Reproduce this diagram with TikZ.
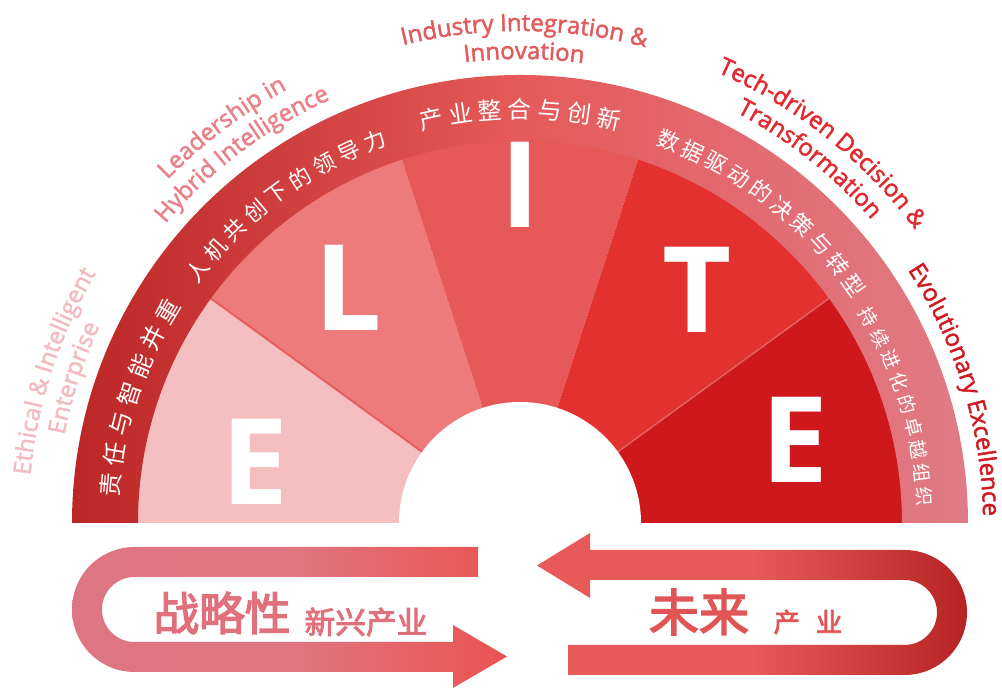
\documentclass[tikz,border=0pt]{standalone}
\usepackage{fontspec}
\setmainfont{Open Sans}
\newfontfamily\enfont{Open Sans}[RawFeature={embolden=2}]
\newfontfamily\cjk{Noto Sans CJK SC}
\newfontfamily\cjkbold{Noto Sans CJK SC}[RawFeature={embolden=3}]
\usetikzlibrary{decorations.text}

\definecolor{wedgeE}{HTML}{F5BFC1}
\definecolor{wedgeL}{HTML}{EE7B7C}
\definecolor{wedgeI}{HTML}{E75858}
\definecolor{wedgeT}{HTML}{E2312E}
\definecolor{wedgeX}{HTML}{CE181C}
\definecolor{bandL}{HTML}{BC2626}
\definecolor{bandM}{HTML}{E55A5A}
\definecolor{bandR}{HTML}{E07B86}
\definecolor{enE}{HTML}{F3BBC0}
\definecolor{enL}{HTML}{E9818A}
\definecolor{enI}{HTML}{E35A5C}
\definecolor{enT}{HTML}{E02A30}
\definecolor{enX}{HTML}{CF1A22}
\definecolor{stratA}{HTML}{DE7583}
\definecolor{stratM}{HTML}{E07682}
\definecolor{stratB}{HTML}{E9534F}
\definecolor{futA}{HTML}{E85A5A}
\definecolor{futB}{HTML}{B52422}
\definecolor{stratTxt}{HTML}{E0707C}
\definecolor{futTxt}{HTML}{E05555}

\tikzset{
  bigletter/.style={text=white, font=\bfseries\fontsize{68}{68}\selectfont, inner sep=0pt},
  bandtxt/.style={text=white, inner sep=0pt},
  arrowtxt/.style={inner sep=0pt},
}

% english label bent along an arc: centre angle, radius, colour, text
\newcommand\arclabel[4]{%
  \path[decorate, decoration={text along path, text align=center,
      text={|\enfont\fontsize{13.6}{16}\selectfont\color{#3}|#4}}]
    ({#1+60}:#2) arc[start angle={#1+60}, end angle={#1-60}, radius=#2];}

\begin{document}
\begin{tikzpicture}[x=0.02cm, y=0.02cm]
  \useasboundingbox (0,0) rectangle (1002,688);

  \begin{scope}[shift={(520,165)}]
    \coordinate (ctr) at (0,0);
    % wedges
    \fill[wedgeE] (ctr) -- (180:384) arc[start angle=180, end angle=144, radius=384] -- cycle;
    \fill[wedgeL] (ctr) -- (144:384) arc[start angle=144, end angle=108, radius=384] -- cycle;
    \fill[wedgeI] (ctr) -- (108:384) arc[start angle=108, end angle=72, radius=384] -- cycle;
    \fill[wedgeT] (ctr) -- (72:384) arc[start angle=72, end angle=36, radius=384] -- cycle;
    \fill[wedgeX] (ctr) -- (36:384) arc[start angle=36, end angle=0, radius=384] -- cycle;
    \draw[line width=1.1pt, color=wedgeI!90!wedgeL] (144:121) -- (144:383);
    \draw[line width=0.8pt, color=white, opacity=0.25] (36:121) -- (36:383);
    \fill[white] (0:121) arc[start angle=0, end angle=180, radius=121] -- cycle;

    % outer band
    \shade[left color=bandL, right color=bandR, middle color=bandM]
      (0:448) arc[start angle=0, end angle=180, radius=448]
      -- (180:382) arc[start angle=180, end angle=0, radius=382] -- cycle;

    % chinese text in the band
    \foreach \ch [count=\i] in {责,任,与,智,能,并,重}
      \node[bandtxt, font=\cjk\fontsize{13.6}{14}\selectfont, rotate={174.6-(\i-1)*4.27-90}]
        (cE\i) at ({174.6-(\i-1)*4.27}:411) {\ch};
    \foreach \ch [count=\i] in {人,机,共,创,下,的,领,导,力}
      \node[bandtxt, font=\cjk\fontsize{12.5}{13}\selectfont, rotate={142-(\i-1)*3.9-90}]
        (cL\i) at ({142-(\i-1)*3.9}:409) {\ch};
    \foreach \ch [count=\i] in {产,业,整,合,与,创,新}
      \node[bandtxt, font=\cjk\fontsize{13.6}{14}\selectfont, rotate={102.4-(\i-1)*4.13-90}]
        (cI\i) at ({102.4-(\i-1)*4.13}:414) {\ch};
    \foreach \ch [count=\i] in {数,据,驱,动,的,决,策,与,转,型}
      \node[bandtxt, font=\cjk\fontsize{12.5}{13}\selectfont, rotate={68.8-(\i-1)*3.71-90}]
        (cT\i) at ({68.8-(\i-1)*3.71}:410) {\ch};
    \foreach \ch [count=\i] in {持,续,进,化,的,卓,越,组,织}
      \node[bandtxt, font=\cjk\fontsize{10.8}{11}\selectfont, rotate={30.5-(\i-1)*3.35-90}]
        (cX\i) at ({30.5-(\i-1)*3.35}:405) {\ch};

    % english labels outside
    \arclabel{162}{492}{enE}{Ethical {\&} Intelligent}
    \arclabel{162}{464}{enE}{Enterprise}
    \arclabel{127}{492}{enL}{Leadership in}
    \arclabel{127}{464}{enL}{Hybrid Intelligence}
    \arclabel{89.5}{492}{enI}{Industry Integration {\&}}
    \arclabel{89.5}{464}{enI}{Innovation}
    \arclabel{51.5}{492}{enT}{Tech-driven Decision {\&}}
    \arclabel{51.5}{464}{enT}{Transformation}
    \arclabel{17}{463}{enX}{Evolutionary Excellence}
  \end{scope}

  % big letters
  \node[bigletter] (lE) at (255,226) {E};
  \node[bigletter] (lL) at (348,400) {L};
  \node[bigletter] (lI) at (520,503) {I};
  \node[bigletter] (lT) at (697,398) {T};
  \node[bigletter] (lX) at (795,248) {E};

  % strategic arrow
  \shade[left color=stratA, right color=stratB, middle color=stratM]
    (478,141) -- (134.5,141) arc[start angle=90, end angle=270, radius=62.5]
    -- (453,16) -- (453,0) -- (507,31.5) -- (453,63) -- (453,46) -- (134.5,46)
    arc[start angle=270, end angle=90, radius=32.5] -- (478,111) -- cycle;
  \node[arrowtxt, font=\cjkbold\fontsize{26}{26}\selectfont, text=stratTxt] (strat) at (222,75) {战略性};
  \node[arrowtxt, font=\cjkbold\fontsize{17.5}{18}\selectfont, text=stratTxt] (stratsub) at (366,66) {新兴产业};

  % future arrow
  \shade[left color=futA, right color=futB, middle color=futA]
    (568,43) -- (904.5,43) arc[start angle=-90, end angle=90, radius=32.5]
    -- (590,108) -- (590,90) -- (537,122.5) -- (590,155) -- (590,138) -- (904.5,138)
    arc[start angle=90, end angle=-90, radius=62.5] -- (568,13) -- cycle;
  \node[arrowtxt, font=\cjkbold\fontsize{28.5}{29}\selectfont, text=futTxt] (fut) at (699,76) {未来};
  \node[arrowtxt, font=\cjkbold\fontsize{15}{15}\selectfont, text=futTxt] (futsub) at (808,66) {产\hspace{0.6em}业};
\end{tikzpicture}
\end{document}
